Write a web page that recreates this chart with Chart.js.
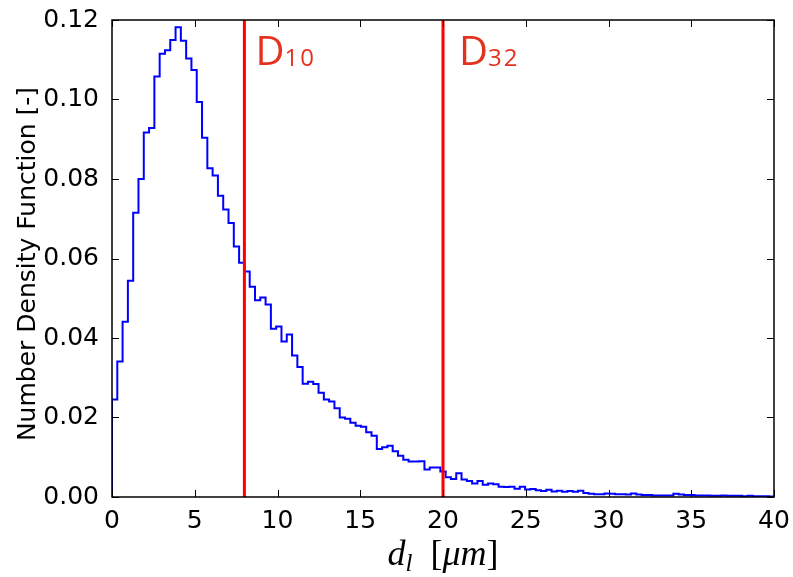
<!DOCTYPE html>
<html>
<head>
<meta charset="utf-8">
<script src="https://cdn.jsdelivr.net/npm/chart.js@4.4.0/dist/chart.umd.min.js"></script>
<style>
  html, body { margin: 0; padding: 0; background: #fff; }
  #wrap { width: 793px; height: 577px; }
</style>
</head>
<body>
<div id="wrap"><canvas id="chart" width="793" height="577"></canvas></div>
<script>
// histogram of droplet diameters, 125 bins of 0.32 um between 0 and 40
const binStart = 0;
const binWidth = 0.32;
const binValues = [
  0.0245, 0.0341, 0.0441, 0.0544, 0.0715, 0.0800, 0.0917, 0.0928, 0.1058, 0.1115,
  0.1124, 0.1150, 0.1182, 0.1148, 0.1103, 0.1074, 0.0994, 0.0904, 0.0827, 0.0809,
  0.0758, 0.0723, 0.0689, 0.0630, 0.0589, 0.0567, 0.0529, 0.0495, 0.0502, 0.0484,
  0.0423, 0.0429, 0.0391, 0.0409, 0.0356, 0.0327, 0.0285, 0.0290, 0.0284, 0.0262,
  0.0245, 0.0240, 0.0223, 0.0200, 0.0197, 0.0187, 0.0179, 0.0177, 0.0163, 0.0154,
  0.0121, 0.0125, 0.0129, 0.0115, 0.0104, 0.0094, 0.0089, 0.0089, 0.0090, 0.0069,
  0.0074, 0.0074, 0.0064, 0.0050, 0.0045, 0.0060, 0.0044, 0.0040, 0.0034, 0.0040,
  0.0031, 0.0034, 0.0032, 0.0026, 0.0025, 0.0026, 0.0021, 0.0026, 0.0019, 0.0020,
  0.0017, 0.0015, 0.0018, 0.0014, 0.0016, 0.0013, 0.0015, 0.0013, 0.0016, 0.0010,
  0.0008, 0.0007, 0.0007, 0.0009, 0.0008, 0.0007, 0.0007, 0.0006, 0.0009, 0.0006,
  0.0005, 0.0005, 0.0004, 0.0004, 0.0004, 0.0004, 0.0008, 0.0006, 0.0005, 0.0005,
  0.0004, 0.0004, 0.0004, 0.0003, 0.0003, 0.0004, 0.0003, 0.0003, 0.0003, 0.0002,
  0.0003, 0.0002, 0.0002, 0.0002, 0.0001
];

// mean diameters shown as red lines
const markerValues = [8, 20];
const markerSubs = ['10', '32'];

const xTickValues = [0, 5, 10, 15, 20, 25, 30, 35, 40];
const yTickValues = [0, 0.02, 0.04, 0.06, 0.08, 0.10, 0.12];
const yLabel = 'Number Density Function [-]';

// step outline points (left edge of every bin), closed down to zero at both ends
var histPoints = [{x: binStart, y: 0}];
for (var i = 0; i < binValues.length; i++) {
  histPoints.push({x: binStart + i * binWidth, y: binValues[i]});
}
var binEnd = binStart + binValues.length * binWidth;
histPoints.push({x: binEnd, y: binValues[binValues.length - 1]});
histPoints.push({x: binEnd, y: 0});

var datasets = [{
  data: histPoints,
  borderColor: '#0000ff',
  borderWidth: 2,
  stepped: 'before',   // horizontal first, then vertical
  pointRadius: 0,
  fill: false,
  order: 1
}];
markerValues.forEach(function (v) {
  datasets.push({
    data: [{x: v, y: yTickValues[0]}, {x: v, y: yTickValues[yTickValues.length - 1]}],
    borderColor: '#ff0000',
    borderWidth: 3,
    pointRadius: 0,
    order: 0
  });
});

// box, inward ticks, the D labels and both axis titles
const decorations = {
  id: 'decorations',
  afterDatasetsDraw: function (chart) {
    var ctx = chart.ctx;
    var a = chart.chartArea;
    var xs = chart.scales.x, ys = chart.scales.y;
    ctx.save();
    ctx.strokeStyle = '#000';
    ctx.lineWidth = 1;
    xTickValues.forEach(function (v) {
      var px = Math.round(xs.getPixelForValue(v)) + 0.5;
      ctx.beginPath();
      ctx.moveTo(px, a.bottom); ctx.lineTo(px, a.bottom - 7);
      ctx.moveTo(px, a.top); ctx.lineTo(px, a.top + 7);
      ctx.stroke();
    });
    yTickValues.forEach(function (v) {
      var py = Math.round(ys.getPixelForValue(v)) + 0.5;
      ctx.beginPath();
      ctx.moveTo(a.left, py); ctx.lineTo(a.left + 7, py);
      ctx.moveTo(a.right, py); ctx.lineTo(a.right - 7, py);
      ctx.stroke();
    });
    ctx.lineWidth = 1.5;
    ctx.strokeRect(a.left, a.top, a.right - a.left, a.bottom - a.top);

    // D10 / D32
    ctx.fillStyle = '#e5321f';
    ctx.textBaseline = 'alphabetic';
    ctx.textAlign = 'left';
    markerValues.forEach(function (v, k) {
      var px = xs.getPixelForValue(v) + (k === 0 ? 11 : 16);
      ctx.font = '40px "Open Sans"';
      ctx.fillText('D', px, 65);
      var w = ctx.measureText('D').width;
      ctx.font = '24px "Open Sans"';
      try { ctx.letterSpacing = '2px'; } catch (e) {}
      ctx.fillText(markerSubs[k], px + w, 66);
      try { ctx.letterSpacing = '0px'; } catch (e) {}
    });

    // y title
    ctx.fillStyle = '#000';
    ctx.save();
    ctx.translate(28, 264);
    ctx.rotate(-Math.PI / 2);
    ctx.textAlign = 'center';
    ctx.textBaseline = 'middle';
    ctx.font = '25px "DejaVu Sans"';
    ctx.fillText(yLabel, 0, 0);
    ctx.restore();

    // x title: d_l [mu m]
    var parts = [
      {t: 'd', f: 'italic 36px "Liberation Serif"', dy: 0},
      {t: 'l', f: 'italic 25px "Liberation Serif"', dy: 6},
      {t: '  [', f: '36px "Liberation Serif"', dy: 0},
      {t: '\u03bcm', f: 'italic 36px "Liberation Serif"', dy: 0},
      {t: ']', f: '36px "Liberation Serif"', dy: 0}
    ];
    var total = 0;
    parts.forEach(function (p) { ctx.font = p.f; p.w = ctx.measureText(p.t).width; total += p.w; });
    var tx = (a.left + a.right) / 2 - total / 2;
    ctx.textAlign = 'left';
    ctx.textBaseline = 'alphabetic';
    parts.forEach(function (p) {
      ctx.font = p.f;
      ctx.fillText(p.t, tx, 565 + p.dy);
      tx += p.w;
    });
    ctx.restore();
  }
};

new Chart(document.getElementById('chart'), {
  type: 'line',
  data: {datasets: datasets},
  options: {
    responsive: false,
    animation: false,
    devicePixelRatio: 1,
    layout: {padding: {left: 0, right: 19, top: 17, bottom: 0}},
    plugins: {legend: {display: false}, tooltip: {enabled: false}},
    scales: {
      x: {
        type: 'linear',
        min: 0,
        max: 40,
        afterBuildTicks: function (scale) {
          scale.ticks = xTickValues.map(function (v) { return {value: v}; });
        },
        afterFit: function (scale) { scale.height = 80; },
        grid: {display: false},
        border: {display: false},
        ticks: {
          color: '#000',
          padding: 1,
          maxRotation: 0,
          autoSkip: false,
          font: {family: '"DejaVu Sans"', size: 25}
        }
      },
      y: {
        type: 'linear',
        min: 0,
        max: 0.12,
        afterBuildTicks: function (scale) {
          scale.ticks = yTickValues.map(function (v) { return {value: v}; });
        },
        afterFit: function (scale) { scale.width = 112; },
        grid: {display: false},
        border: {display: false},
        ticks: {
          color: '#000',
          padding: 5,
          autoSkip: false,
          font: {family: '"DejaVu Sans"', size: 25},
          callback: function (v) { return v.toFixed(2); }
        }
      }
    }
  },
  plugins: [decorations]
});
</script>
</body>
</html>
